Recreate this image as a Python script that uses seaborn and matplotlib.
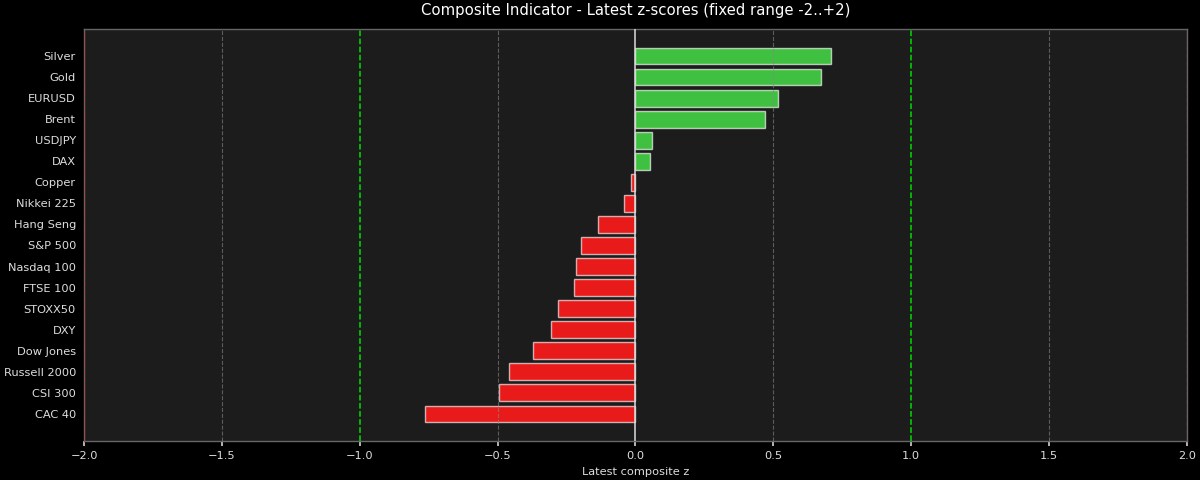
import matplotlib
matplotlib.use("Agg")
import matplotlib.pyplot as plt
import seaborn as sns
import pandas as pd

assets = ["Silver", "Gold", "EURUSD", "Brent", "USDJPY", "DAX", "Copper", "Nikkei 225",
          "Hang Seng", "S&P 500", "Nasdaq 100", "FTSE 100", "STOXX50", "DXY",
          "Dow Jones", "Russell 2000", "CSI 300", "CAC 40"]
zscores = [0.710, 0.674, 0.517, 0.470, 0.059, 0.052, -0.016, -0.042,
           -0.135, -0.197, -0.216, -0.223, -0.281, -0.305,
           -0.372, -0.458, -0.493, -0.763]
xticks = [-2.0, -1.5, -1.0, -0.5, 0.0, 0.5, 1.0, 1.5, 2.0]

df = pd.DataFrame({"asset": assets, "z": zscores})
df["sign"] = ["pos" if v >= 0 else "neg" for v in df["z"]]

sns.set_theme(style="dark")
plt.rcParams["font.family"] = ["DejaVu Sans"]

fig = plt.figure(figsize=(12, 4.8), dpi=100, facecolor="black")
ax = fig.add_axes([0.07, 0.081, 0.919, 0.859])
ax.set_facecolor("#1c1c1c")

sns.barplot(data=df, x="z", y="asset", hue="sign", orient="h",
            palette={"pos": "#40c040", "neg": "#e81a1a"}, order=assets,
            width=0.8, dodge=False, legend=False, ax=ax, saturation=1,
            edgecolor=(1, 1, 1, 0.65), linewidth=1.0, zorder=2)

ax.set_xlim(-2, 2)
ax.set_ylim(len(assets) - 1 + 1.29, -1.29)
ax.set_xticks(xticks)
ax.set_xticklabels([f"{t:.1f}".replace("-", "\u2212") for t in xticks])
for t in xticks:
    if t not in (-1.0, 0.0, 1.0, -2.0, 2.0):
        ax.axvline(t, color="#888888", linestyle="--", linewidth=0.8, alpha=0.6, zorder=3)
ax.axvline(0, color="#dddddd", linewidth=1.1, zorder=4)
for v in (-1.0, 1.0):
    ax.axvline(v, color="#00dd00", linestyle="--", linewidth=1.1, zorder=4)
for v in (-2.0, 2.0):
    ax.axvline(v, color="#cc3333", linestyle="--", linewidth=1.0, alpha=0.6, zorder=5)

ax.grid(False)
for s in ax.spines.values():
    s.set_visible(True)
    s.set_color("#666666")
    s.set_linewidth(1.0)

ax.tick_params(axis="both", colors="#dddddd", labelsize=8.2)
ax.tick_params(axis="y", length=0, pad=5.8)
ax.tick_params(axis="x", bottom=True, color="#cccccc", length=3.5, pad=3.5)
ax.set_ylabel("")
ax.set_xlabel("Latest composite z", color="#dddddd", fontsize=8.2, labelpad=4.5)
ax.set_title("Composite Indicator - Latest z-scores (fixed range -2..+2)",
             color="white", fontsize=10.7, pad=10)

fig.savefig("out.png", dpi=100, facecolor="black")
